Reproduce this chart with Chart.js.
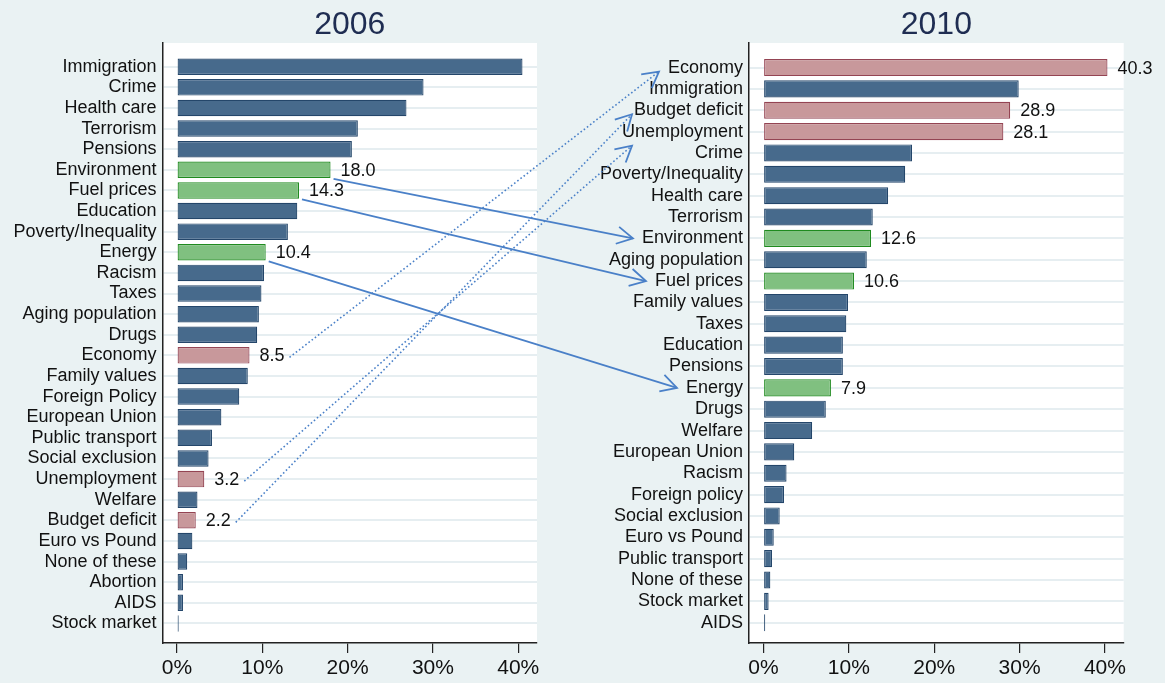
<!DOCTYPE html>
<html>
<head>
<meta charset="utf-8">
<title>Most important issues 2006 vs 2010</title>
<script src="https://cdn.jsdelivr.net/npm/chart.js@4.4.1/dist/chart.umd.min.js"></script>
<style>
  html, body { margin: 0; padding: 0; background: #eaf2f3; }
  #wrap { position: relative; width: 1165px; height: 683px; overflow: hidden; }
  #wrap canvas { position: absolute; top: 0; }
</style>
</head>
<body>
<div id="wrap">
  <canvas id="chart2006" width="560" height="683" style="left:0"></canvas>
  <canvas id="chart2010" width="605" height="683" style="left:560px"></canvas>
  <canvas id="arrows" width="1165" height="683" style="left:0;pointer-events:none"></canvas>
</div>
<script>
// Share of respondents naming each issue (%)
const ISSUES_2006 = [
  "Immigration", "Crime", "Health care", "Terrorism", "Pensions", "Environment",
  "Fuel prices", "Education", "Poverty/Inequality", "Energy", "Racism", "Taxes",
  "Aging population", "Drugs", "Economy", "Family values", "Foreign Policy",
  "European Union", "Public transport", "Social exclusion", "Unemployment", "Welfare",
  "Budget deficit", "Euro vs Pound", "None of these", "Abortion", "AIDS", "Stock market"
];
const VALUES_2006 = [
  40.5, 28.9, 26.9, 21.2, 20.5, 18.0,
  14.3, 14.1, 13.0, 10.4, 10.2, 9.9,
  9.6, 9.4, 8.5, 8.3, 7.3,
  5.2, 4.1, 3.7, 3.2, 2.4,
  2.2, 1.8, 1.2, 0.7, 0.7, 0.2
];

const ISSUES_2010 = [
  "Economy", "Immigration", "Budget deficit", "Unemployment", "Crime",
  "Poverty/Inequality", "Health care", "Terrorism", "Environment", "Aging population",
  "Fuel prices", "Family values", "Taxes", "Education", "Pensions", "Energy", "Drugs",
  "Welfare", "European Union", "Racism", "Foreign policy", "Social exclusion",
  "Euro vs Pound", "Public transport", "None of these", "Stock market", "AIDS"
];
const VALUES_2010 = [
  40.3, 29.9, 28.9, 28.1, 17.4,
  16.6, 14.6, 12.8, 12.6, 12.1,
  10.6, 9.9, 9.7, 9.3, 9.3, 7.9, 7.3,
  5.7, 3.6, 2.7, 2.4, 1.9,
  1.2, 1.0, 0.8, 0.6, 0.2
];

const ECONOMIC_ISSUES = ["Economy", "Budget deficit", "Unemployment"];
const ENERGY_ISSUES = ["Environment", "Fuel prices", "Energy"];
const X_TICKS = [0, 10, 20, 30, 40];

// arrows from the 2006 panel to the 2010 panel
const ARROWS = [
  ["Environment", "solid"],
  ["Fuel prices", "solid"],
  ["Energy", "solid"],
  ["Economy", "dotted"],
  ["Unemployment", "dotted"],
  ["Budget deficit", "dotted"]
];

const FONT = '"Liberation Sans", Arial, sans-serif';
const BLUE = "#476a8c", BLUE_EDGE = "#24466a";
const RED = "#c8989b", RED_EDGE = "#944453";
const GREEN = "#80c080", GREEN_EDGE = "#1f8a1f";
const ARROW_COLOR = "#4a80c8";

function fillFor(issue) {
  if (ECONOMIC_ISSUES.includes(issue)) return RED;
  if (ENERGY_ISSUES.includes(issue)) return GREEN;
  return BLUE;
}
function edgeFor(issue) {
  if (ECONOMIC_ISSUES.includes(issue)) return RED_EDGE;
  if (ENERGY_ISSUES.includes(issue)) return GREEN_EDGE;
  return BLUE_EDGE;
}

const plotBackground = {
  id: "plotBackground",
  beforeDraw(chart) {
    const a = chart.chartArea;
    const ctx = chart.ctx;
    ctx.save();
    ctx.fillStyle = "#ffffff";
    ctx.fillRect(a.left, a.top, a.right - a.left, a.bottom - a.top);
    ctx.restore();
  }
};

const panelTitle = {
  id: "panelTitle",
  afterDraw(chart, args, opts) {
    const a = chart.chartArea;
    const ctx = chart.ctx;
    ctx.save();
    ctx.font = "32px " + FONT;
    ctx.fillStyle = "#1f2d52";
    ctx.textAlign = "center";
    ctx.textBaseline = "alphabetic";
    ctx.fillText(opts.text, (a.left + a.right) / 2, 34);
    ctx.restore();
  }
};

// value labels next to the highlighted bars
const valueLabels = {
  id: "valueLabels",
  afterDatasetsDraw(chart, args, opts) {
    const ctx = chart.ctx;
    const meta = chart.getDatasetMeta(0);
    ctx.save();
    ctx.font = "18px " + FONT;
    ctx.fillStyle = "#111";
    ctx.textAlign = "left";
    ctx.textBaseline = "middle";
    meta.data.forEach((bar, i) => {
      const issue = opts.issues[i];
      if (!ECONOMIC_ISSUES.includes(issue) && !ENERGY_ISSUES.includes(issue)) return;
      ctx.fillText(opts.values[i].toFixed(1), bar.x + 10, bar.y + 1);
    });
    ctx.restore();
  }
};

function buildPanel(canvasId, title, issues, values, axisWidth, rightPad) {
  const ctx = document.getElementById(canvasId);
  return new Chart(ctx, {
    type: "bar",
    data: {
      datasets: [{
        data: values.map((v, i) => ({ x: v, y: i })),
        backgroundColor: issues.map(fillFor),
        borderColor: issues.map(edgeFor),
        borderWidth: 1.2,
        borderSkipped: false,
        barPercentage: 0.8,
        categoryPercentage: 1
      }]
    },
    options: {
      indexAxis: "y",
      responsive: false,
      animation: false,
      layout: { padding: { top: 43, right: rightPad, bottom: 0, left: 0 } },
      plugins: {
        legend: { display: false },
        tooltip: { enabled: false },
        panelTitle: { text: title },
        valueLabels: { issues, values }
      },
      scales: {
        x: {
          type: "linear",
          min: -1.7,
          max: 42.2,
          afterBuildTicks: (scale) => { scale.ticks = X_TICKS.map(v => ({ value: v })); },
          afterFit: (scale) => { scale.height = 40; },
          ticks: {
            callback: (v) => v + "%",
            font: { family: FONT, size: 21 },
            color: "#111",
            padding: 3,
            maxRotation: 0
          },
          grid: { drawOnChartArea: false, drawTicks: true, tickLength: 10, color: "#222", lineWidth: 1.2 },
          border: { display: true, color: "#222", width: 1.5 }
        },
        y: {
          type: "linear",
          reverse: true,
          offset: false,
          min: -1.15,
          max: issues.length - 0.05,
          afterBuildTicks: (scale) => { scale.ticks = issues.map((_, i) => ({ value: i })); },
          afterFit: (scale) => { scale.width = axisWidth; },
          ticks: {
            callback: (v) => issues[v],
            font: { family: FONT, size: 18 },
            color: "#111",
            padding: 6,
            autoSkip: false
          },
          grid: { offset: false, color: "#e6eef1", lineWidth: 2, drawTicks: false },
          border: { display: true, color: "#222", width: 1.5 }
        }
      }
    },
    plugins: [plotBackground, panelTitle, valueLabels]
  });
}

function drawArrowHead(ctx, sx, sy, tx, ty) {
  const ang = Math.atan2(ty - sy, tx - sx);
  const len = 18, spread = 0.5;
  ctx.setLineDash([]);
  ctx.beginPath();
  ctx.moveTo(tx + len * Math.cos(ang + Math.PI - spread), ty + len * Math.sin(ang + Math.PI - spread));
  ctx.lineTo(tx, ty);
  ctx.lineTo(tx + len * Math.cos(ang + Math.PI + spread), ty + len * Math.sin(ang + Math.PI + spread));
  ctx.stroke();
}

function drawArrows(left, right) {
  const canvas = document.getElementById("arrows");
  const ctx = canvas.getContext("2d");
  const rightOffset = 560;
  ctx.font = "18px " + FONT;
  ctx.strokeStyle = ARROW_COLOR;

  ARROWS.forEach(([issue, style]) => {
    const i0 = ISSUES_2006.indexOf(issue);
    const i1 = ISSUES_2010.indexOf(issue);

    const barEnd = left.scales.x.getPixelForValue(VALUES_2006[i0]);
    const y0 = left.scales.y.getPixelForValue(i0);
    const sx = style === "solid" ? barEnd + 3 : barEnd + 40;
    const sy = style === "solid" ? y0 + 9 : y0 + 2;

    const axisX = rightOffset + right.scales.y.right;
    const labelLeft = axisX - 6 - ctx.measureText(issue).width;
    const tx = Math.max(labelLeft - 9, axisX - 117);
    let ty = right.scales.y.getPixelForValue(i1) + (style === "solid" ? 0 : 4);
    // keep the head clear of a label that reaches past the arrow tip
    if (labelLeft < tx) ty += 10;

    ctx.lineWidth = style === "solid" ? 1.8 : 1.6;
    ctx.setLineDash(style === "solid" ? [] : [1.6, 2.4]);
    ctx.beginPath();
    ctx.moveTo(sx, sy);
    ctx.lineTo(tx, ty);
    ctx.stroke();
    ctx.lineWidth = 1.8;
    drawArrowHead(ctx, sx, sy, tx, ty);
  });
}

const chart2006 = buildPanel("chart2006", "2006", ISSUES_2006, VALUES_2006, 162.5, 23);
const chart2010 = buildPanel("chart2010", "2010", ISSUES_2010, VALUES_2010, 189, 41.3);
drawArrows(chart2006, chart2010);
</script>
</body>
</html>
